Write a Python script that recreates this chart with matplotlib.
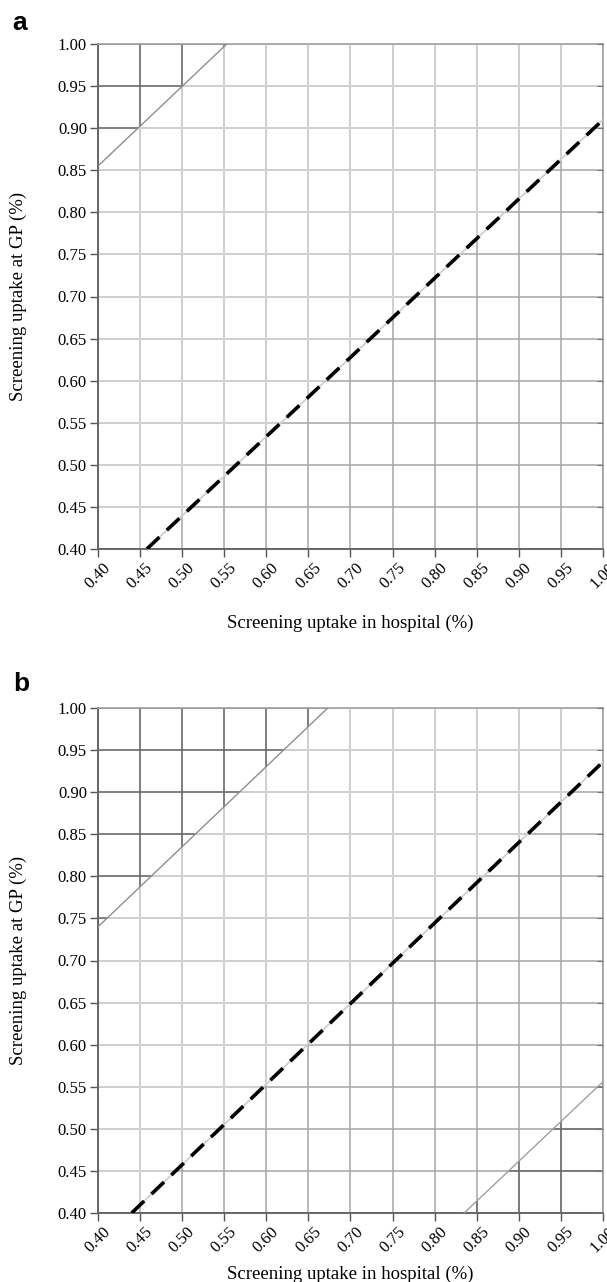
import numpy as np
from matplotlib import pyplot as plt
from matplotlib.patches import Polygon

plt.rcParams['font.family'] = ['Liberation Serif', 'DejaVu Serif']

ticks = [0.40, 0.45, 0.50, 0.55, 0.60, 0.65, 0.70, 0.75, 0.80, 0.85, 0.90, 0.95, 1.00]
tick_labels = ['%.2f' % t for t in ticks]

# threshold lines: (x0, x1), (y0, y1)
a_upper = ([0.40, 0.553], [0.855, 1.00])
a_dashed = ([0.458, 1.00], [0.40, 0.910])
b_upper = ([0.40, 0.673], [0.740, 1.00])
b_dashed = ([0.440, 1.00], [0.40, 0.936])
b_lower = ([0.835, 1.00], [0.40, 0.556])

dark = '#6a6a6a'
mid = '#a6a6a6'
light = '#d6d6d6'


def half_plane(ax, line, above):
    # big polygon on one side of the extended line, used as clip region
    (x0, x1), (y0, y1) = line
    k = (y1 - y0) / (x1 - x0)
    xa, xb = -1.0, 2.0
    ya, yb = y0 + k * (xa - x0), y0 + k * (xb - x0)
    yy = 10.0 if above else -10.0
    poly = Polygon([(xa, ya), (xb, yb), (xb, yy), (xa, yy)], closed=True,
                   transform=ax.transData, facecolor='none', edgecolor='none')
    ax.add_patch(poly)
    return poly


def grid(ax, color, clip=None):
    for t in ticks:
        for ln in (ax.plot([t, t], [0.40, 1.00], color=color, lw=1.1, zorder=1)[0],
                   ax.plot([0.40, 1.00], [t, t], color=color, lw=1.1, zorder=1)[0]):
            ln.set_clip_on(True)
            if clip is not None:
                ln.set_clip_path(clip)


def panel(ax, upper, dashed, lower, letter, letter_y, xpad):
    ax.set_xlim(0.40, 1.00)
    ax.set_ylim(0.40, 1.00)
    grid(ax, mid)
    grid(ax, light, half_plane(ax, dashed, True))
    grid(ax, dark, half_plane(ax, upper, True))
    if lower is not None:
        grid(ax, dark, half_plane(ax, lower, False))

    ax.plot(*upper, color='#8e8e8e', lw=1.0, zorder=3)
    if lower is not None:
        ax.plot(*lower, color='#a0a0a0', lw=1.0, zorder=3)
    ax.plot(*dashed, color='#cccccc', lw=1.2, zorder=3)
    ax.plot(*dashed, color='black', lw=2.6, dashes=(4.8, 2.8), zorder=4)

    ax.set_xticks(ticks)
    ax.set_yticks(ticks)
    ax.set_xticklabels(tick_labels, rotation=45, fontsize=12)
    ax.set_yticklabels(tick_labels, fontsize=12)
    ax.tick_params(length=6, width=1.0, color='#555555', pad=2)
    for s in ('left', 'bottom'):
        ax.spines[s].set_color('#666666')
        ax.spines[s].set_linewidth(1.4)
    for s in ('top', 'right'):
        ax.spines[s].set_color('#a0a0a0')
        ax.spines[s].set_linewidth(1.2)

    rt = ax.twinx()
    rt.set_ylim(0.40, 1.00)
    rt.set_yticks(ticks)
    rt.set_yticklabels([])
    rt.tick_params(direction='in', length=4, color='#777777')
    for s in rt.spines.values():
        s.set_visible(False)

    ax.set_xlabel('Screening uptake in hospital (%)', fontsize=13.5, labelpad=xpad)
    ax.set_ylabel('Screening uptake at GP (%)', fontsize=13.5)
    ax.yaxis.set_label_coords(-0.141, 0.5)
    fig.text(0.021, letter_y, letter, family=['Liberation Sans', 'DejaVu Sans'],
             fontsize=19, fontweight='bold', va='center', ha='left')


fig = plt.figure(figsize=(6.07, 12.82), dpi=100)
ax_a = fig.add_axes([98 / 607, (1282 - 549) / 1282, 505 / 607, 505 / 1282])
ax_b = fig.add_axes([98 / 607, (1282 - 1213) / 1282, 505 / 607, 505 / 1282])

panel(ax_a, a_upper, a_dashed, None, 'a', 1 - 23 / 1282, 16)
panel(ax_b, b_upper, b_dashed, b_lower, 'b', 1 - 684 / 1282, 7)

plt.savefig('out.png', dpi=100)
